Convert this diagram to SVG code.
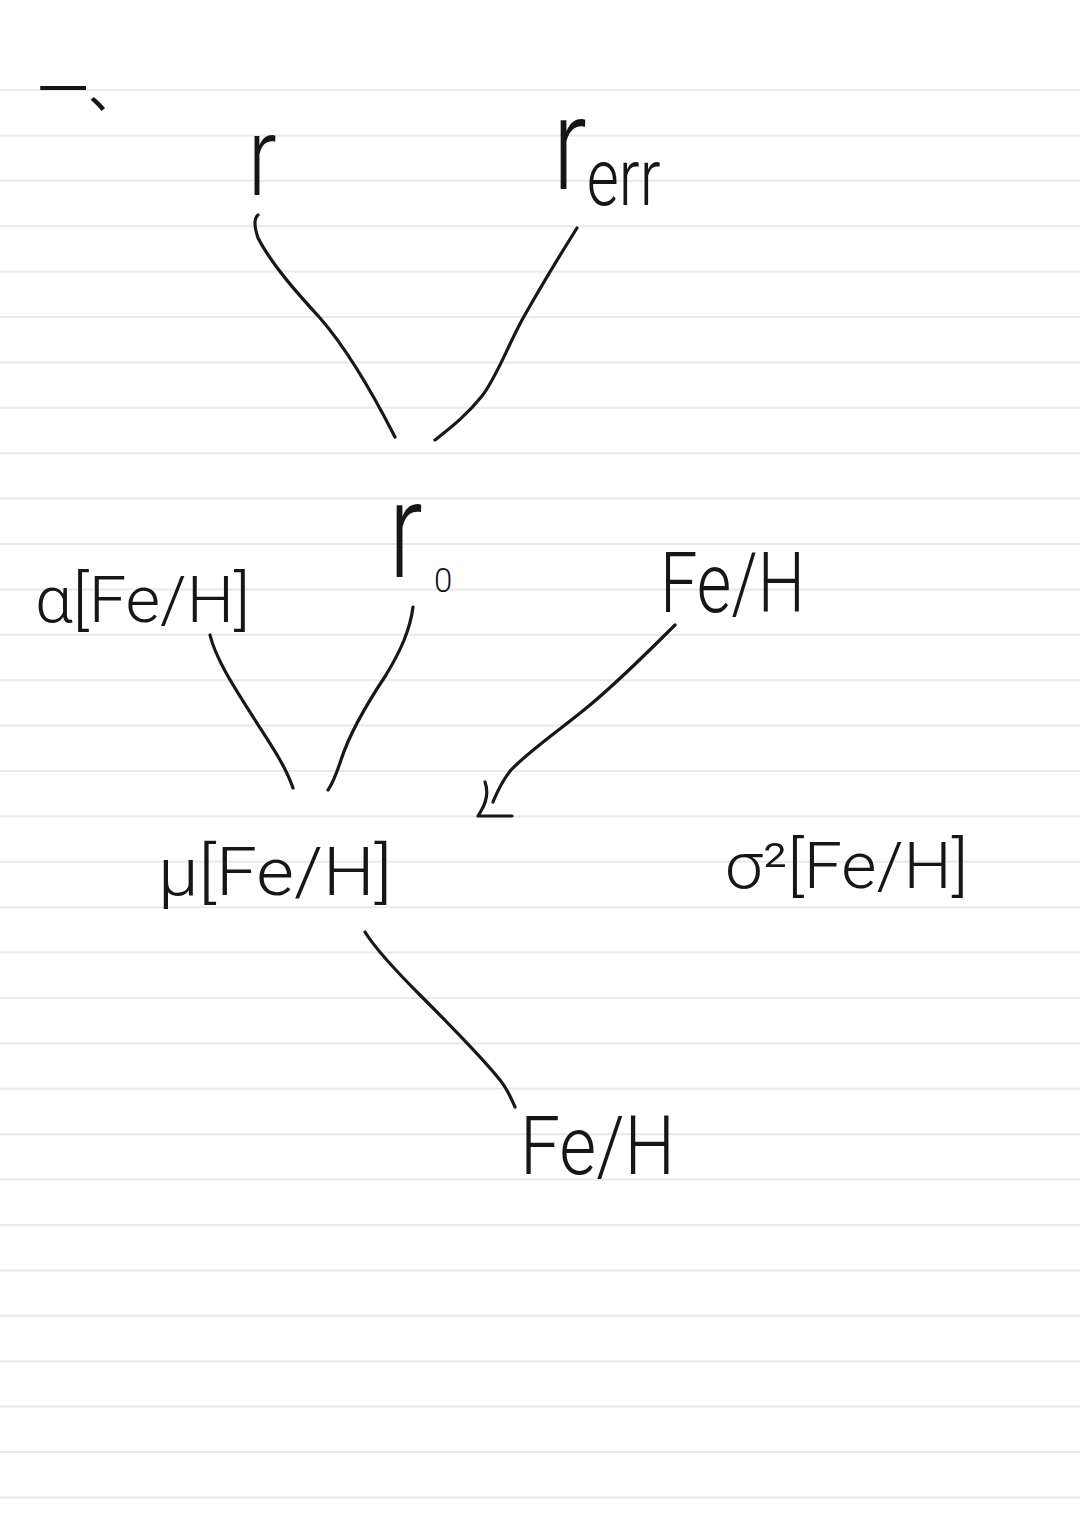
<svg xmlns="http://www.w3.org/2000/svg" width="1080" height="1527" viewBox="0 0 1080 1527">
<defs>
<style>
.paper line{stroke:#e8e8ed;stroke-width:2}
.lbl{font-family:Roboto,"Liberation Sans","DejaVu Sans",sans-serif;font-weight:300;fill:#161616}
.cjk{font-family:"Noto Sans CJK SC","Noto Sans CJK JP",sans-serif;fill:#161616}
.conn path{fill:none;stroke:#181818;stroke-width:3.2;stroke-linecap:round;stroke-linejoin:round}
</style>
</defs>
<rect x="0" y="0" width="1080" height="1527" fill="#ffffff"/>
<g class="paper" id="paper">
<line x1="0" y1="90" x2="1080" y2="90"/>
<line x1="0" y1="135.4" x2="1080" y2="135.4"/>
<line x1="0" y1="180.8" x2="1080" y2="180.8"/>
<line x1="0" y1="226.2" x2="1080" y2="226.2"/>
<line x1="0" y1="271.6" x2="1080" y2="271.6"/>
<line x1="0" y1="317" x2="1080" y2="317"/>
<line x1="0" y1="362.4" x2="1080" y2="362.4"/>
<line x1="0" y1="407.8" x2="1080" y2="407.8"/>
<line x1="0" y1="453.2" x2="1080" y2="453.2"/>
<line x1="0" y1="498.6" x2="1080" y2="498.6"/>
<line x1="0" y1="544" x2="1080" y2="544"/>
<line x1="0" y1="589.4" x2="1080" y2="589.4"/>
<line x1="0" y1="634.8" x2="1080" y2="634.8"/>
<line x1="0" y1="680.2" x2="1080" y2="680.2"/>
<line x1="0" y1="725.6" x2="1080" y2="725.6"/>
<line x1="0" y1="771" x2="1080" y2="771"/>
<line x1="0" y1="816.4" x2="1080" y2="816.4"/>
<line x1="0" y1="861.8" x2="1080" y2="861.8"/>
<line x1="0" y1="907.2" x2="1080" y2="907.2"/>
<line x1="0" y1="952.6" x2="1080" y2="952.6"/>
<line x1="0" y1="998" x2="1080" y2="998"/>
<line x1="0" y1="1043.4" x2="1080" y2="1043.4"/>
<line x1="0" y1="1088.8" x2="1080" y2="1088.8"/>
<line x1="0" y1="1134.2" x2="1080" y2="1134.2"/>
<line x1="0" y1="1179.6" x2="1080" y2="1179.6"/>
<line x1="0" y1="1225" x2="1080" y2="1225"/>
<line x1="0" y1="1270.4" x2="1080" y2="1270.4"/>
<line x1="0" y1="1315.8" x2="1080" y2="1315.8"/>
<line x1="0" y1="1361.2" x2="1080" y2="1361.2"/>
<line x1="0" y1="1406.6" x2="1080" y2="1406.6"/>
<line x1="0" y1="1452" x2="1080" y2="1452"/>
<line x1="0" y1="1497.4" x2="1080" y2="1497.4"/>
</g>
<g id="heading"><text class="cjk" x="38" y="108" font-size="50">一、</text></g>
<g class="conn" id="connectors">
<path d="M258,215 Q252,220 258,238 C272,265 298,294 320,318 C348,350 372,392 395,437"/>
<path d="M577,228 C560,255 540,288 522,320 C506,350 496,378 482,396 C466,416 450,428 435,440"/>
<path d="M210,635 C216,660 236,690 255,720 C271,745 285,765 293,788"/>
<path d="M413,607 C410,630 401,650 386,675 C366,705 350,732 341,760 C336,775 333,783 328,790"/>
<path d="M675,625 C650,650 620,680 590,705 C560,730 530,750 511,770 C501,782 496,795 493,802"/>
<path d="M485,782 Q490,796 481,811 L478,816 L512,816"/>
<path d="M365,932 C375,948 395,970 420,995 C450,1025 480,1055 500,1080 C508,1090 512,1100 515,1107"/>
</g>
<g id="node-r"><text class="lbl" font-size="85" transform="translate(248,195) scale(1,1.3)">r</text></g>
<g id="node-rerr"><text class="lbl" font-size="100" transform="translate(553,189) scale(1,1.3)">r<tspan font-size="62" dy="12">err</tspan></text></g>
<g id="node-r0"><text class="lbl" font-size="100" transform="translate(389,577) scale(1,1.35)">r</text><text class="lbl" x="434" y="592" font-size="33" font-weight="400">0</text></g>
<g id="node-alpha"><text class="lbl" x="35" y="622" font-size="64" textLength="215" lengthAdjust="spacingAndGlyphs">α[Fe/H]</text></g>
<g id="node-feh-top"><text class="lbl" x="660" y="612" font-size="84" textLength="145" lengthAdjust="spacingAndGlyphs">Fe/H</text></g>
<g id="node-mu"><text class="lbl" x="158" y="895" font-size="66" textLength="234" lengthAdjust="spacingAndGlyphs">μ[Fe/H]</text></g>
<g id="node-sigma"><text class="lbl" x="725" y="888" font-size="64" textLength="243" lengthAdjust="spacingAndGlyphs">σ²[Fe/H]</text></g>
<g id="node-feh-bottom"><text class="lbl" x="520" y="1174" font-size="82" textLength="155" lengthAdjust="spacingAndGlyphs">Fe/H</text></g>
</svg>
